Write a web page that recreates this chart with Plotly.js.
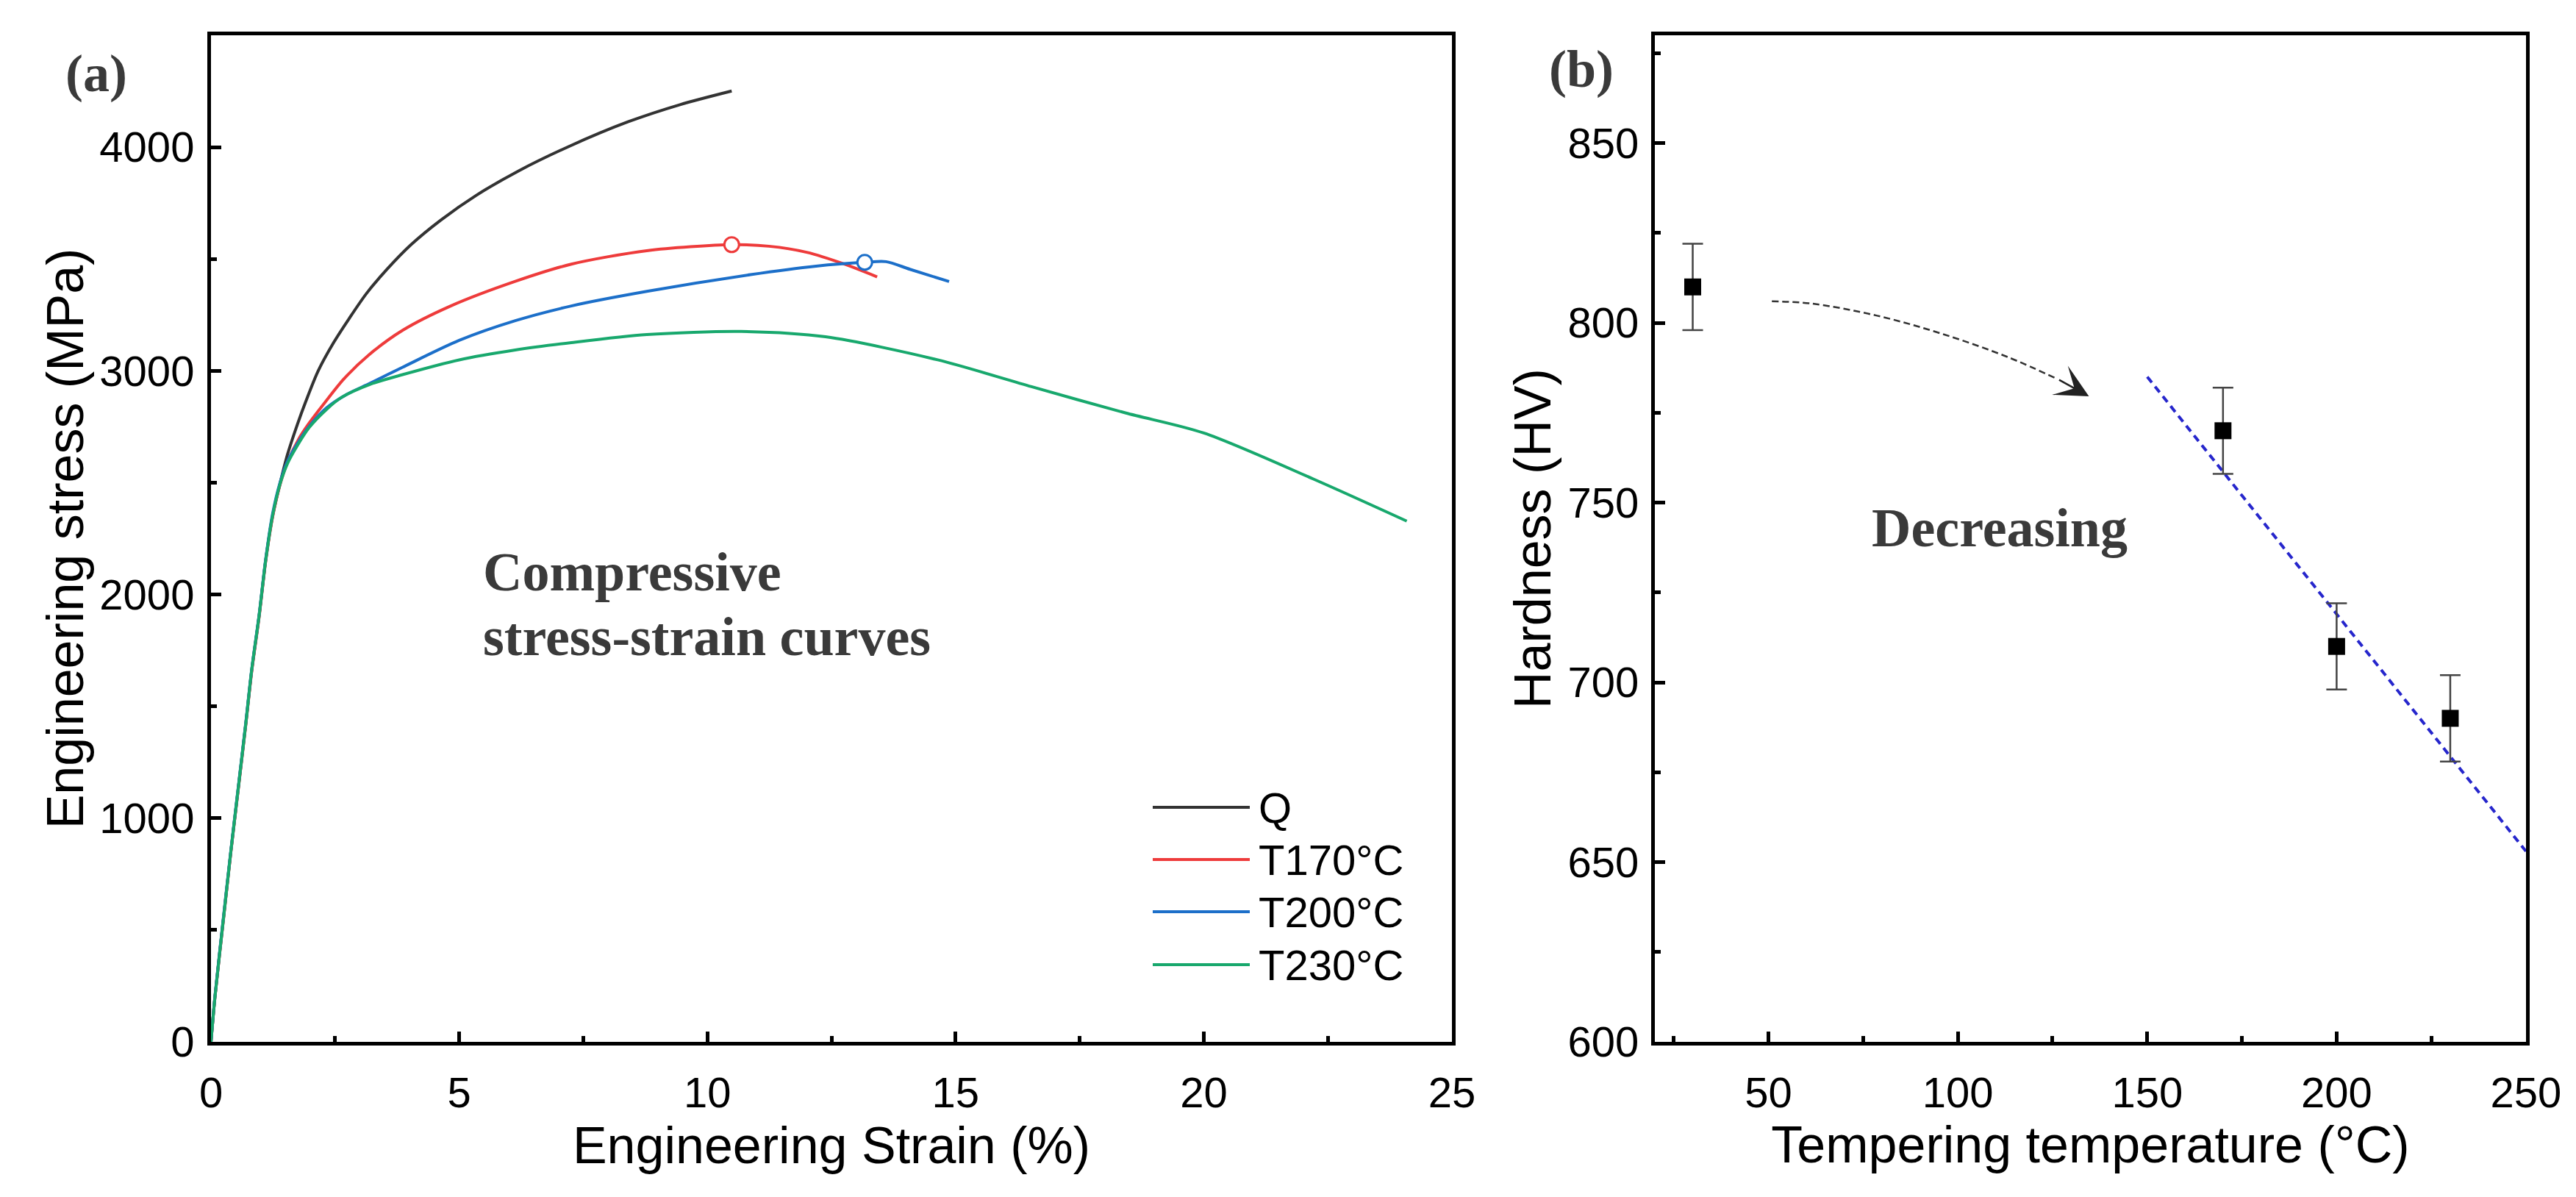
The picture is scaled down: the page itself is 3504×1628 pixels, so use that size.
<!DOCTYPE html>
<html>
<head>
<meta charset="utf-8">
<script src="https://cdn.plot.ly/plotly-3.0.1.min.js"></script>
<style>html,body{margin:0;padding:0;background:#fff;}</style>
</head>
<body>
<div id="chart" style="width:3504px;height:1628px;"></div>
<script>
// (a) compressive stress-strain curves: strain in %, stress in MPa
var strainQ = [0, 0.08, 0.26, 0.40, 0.55, 0.70, 0.82, 0.97, 1.10, 1.24, 1.39, 1.54, 1.74, 1.91, 2.16, 2.47, 2.79, 3.13, 3.55, 4.03, 4.63, 5.34, 6.19, 7.21, 8.40, 9.45, 10.49];
var stressQ = [0, 200, 570, 850, 1135, 1420, 1660, 1905, 2150, 2350, 2495, 2625, 2760, 2863, 3000, 3126, 3236, 3345, 3455, 3564, 3674, 3784, 3893, 4003, 4113, 4190, 4251];

var strain170 = [0, 0.08, 0.26, 0.40, 0.55, 0.70, 0.82, 0.97, 1.10, 1.24, 1.39, 1.54, 1.78, 1.98, 2.30, 2.67, 3.18, 3.86, 4.83, 6.13, 7.26, 8.78, 10.49, 11.24, 12.00, 12.75, 13.42];
var stress170 = [0, 200, 565, 848, 1130, 1415, 1655, 1900, 2145, 2345, 2490, 2590, 2700, 2767, 2860, 2962, 3071, 3181, 3290, 3400, 3477, 3537, 3564, 3557, 3530, 3478, 3420];

var strain200 = [0, 0.08, 0.26, 0.40, 0.55, 0.70, 0.82, 0.97, 1.10, 1.24, 1.39, 1.54, 1.74, 1.98, 2.33, 2.72, 3.21, 3.86, 5.00, 6.13, 7.26, 8.78, 10.87, 12.19, 13.17, 13.60, 14.08, 14.87];
var stress200 = [0, 205, 575, 855, 1140, 1425, 1665, 1910, 2155, 2360, 2500, 2595, 2675, 2752, 2835, 2893, 2945, 3016, 3136, 3224, 3290, 3355, 3430, 3468, 3485, 3488, 3454, 3399];

var strain230 = [0, 0.08, 0.26, 0.40, 0.55, 0.70, 0.82, 0.97, 1.10, 1.24, 1.39, 1.54, 1.74, 1.98, 2.33, 2.62, 3.21, 3.86, 5.00, 6.13, 7.26, 8.78, 10.68, 12.38, 14.64, 16.53, 18.42, 20.00, 22.20, 24.09];
var stress230 = [0, 200, 568, 851, 1135, 1419, 1662, 1906, 2149, 2351, 2493, 2585, 2666, 2747, 2828, 2880, 2940, 2983, 3049, 3093, 3126, 3162, 3176, 3152, 3049, 2929, 2812, 2722, 2517, 2328];

// peak markers (open circles)
var peak170 = {x: [10.49], y: [3564]};
var peak200 = {x: [13.17], y: [3485]};

var seriesNames = ['Q', 'T170°C', 'T200°C', 'T230°C'];
var seriesColors = ['#333333', '#ee3b3b', '#1c6fc9', '#18a86d'];

// (b) hardness vs tempering temperature
var temps = [30, 170, 200, 230];
var hardness = [810, 770, 710, 690];
var hardnessErr = [12, 12, 12, 12];

// linear trend guide and the curved "decreasing" arrow
var fitTemp = [150, 250];
var fitHV = [785, 653];
var arrowTemp = [50.9, 61.2, 78.7, 96.0, 113.4, 126.4];
var arrowHV = [806.0, 805.4, 802.0, 796.9, 790.4, 784.3];
var arrowTip = {x: 134.6, y: 779.6};

var W = 3504, H = 1628;
var tickFont = {family: 'Liberation Sans, Arial, sans-serif', size: 58, color: '#000'};
var titleFont = {family: 'Liberation Sans, Arial, sans-serif', size: 70, color: '#000'};
var serifBold = {family: 'Liberation Serif, Times New Roman, serif', size: 74, color: '#3a3a3a'};

var strainX = [strainQ, strain170, strain200, strain230];
var stressY = [stressQ, stress170, stress200, stress230];

var traces = [];
seriesNames.forEach(function(name, i) {
  traces.push({
    name: name,
    x: strainX[i],
    y: stressY[i],
    xaxis: 'x', yaxis: 'y',
    mode: 'lines',
    type: 'scatter',
    line: {color: seriesColors[i], width: 4, shape: 'spline', smoothing: 0.8},
    showlegend: false,
  });
});

traces.push({
  x: peak170.x, y: peak170.y, xaxis: 'x', yaxis: 'y',
  mode: 'markers', type: 'scatter', showlegend: false,
  marker: {symbol: 'circle', size: 20, color: '#ffffff', line: {color: seriesColors[1], width: 3}},
});
traces.push({
  x: peak200.x, y: peak200.y, xaxis: 'x', yaxis: 'y',
  mode: 'markers', type: 'scatter', showlegend: false,
  marker: {symbol: 'circle', size: 20, color: '#ffffff', line: {color: seriesColors[2], width: 3}},
});

traces.push({
  x: fitTemp, y: fitHV, xaxis: 'x2', yaxis: 'y2',
  mode: 'lines', type: 'scatter', showlegend: false,
  line: {color: '#2626cc', width: 4, dash: '10px,7px'},
});
traces.push({
  x: arrowTemp, y: arrowHV, xaxis: 'x2', yaxis: 'y2',
  mode: 'lines', type: 'scatter', showlegend: false,
  line: {color: '#333333', width: 2.5, dash: '9px,5px', shape: 'spline'},
});
traces.push({
  x: temps, y: hardness, xaxis: 'x2', yaxis: 'y2',
  mode: 'markers', type: 'scatter', showlegend: false,
  marker: {symbol: 'square', size: 23, color: '#000000'},
  error_y: {type: 'data', array: hardnessErr, visible: true, color: '#444444', thickness: 2.5, width: 14},
});

function axisBase() {
  return {
    showgrid: false,
    zeroline: false,
    showline: true,
    linecolor: '#000',
    linewidth: 5,
    mirror: true,
    ticks: 'inside',
    ticklen: 14,
    tickwidth: 5,
    tickcolor: '#000',
    tickfont: tickFont,
    fixedrange: true,
  };
}

// plot areas in pixels of the 3504x1628 canvas
var plotTop = 48, plotBottom = 1417;
var yDomain = [1 - plotBottom / H, 1 - plotTop / H];

var xaxis = Object.assign(axisBase(), {
  domain: [287 / W, 1975 / W], range: [0, 25], dtick: 5, tick0: 0,
  minor: {dtick: 2.5, ticks: 'inside', ticklen: 8, tickwidth: 5, tickcolor: '#000'},
  ticklabelstandoff: 14,
  title: {text: 'Engineering Strain (%)', font: titleFont, standoff: 18},
  anchor: 'y',
});
var yaxis = Object.assign(axisBase(), {
  domain: yDomain, range: [0, 4500], dtick: 1000, tick0: 0,
  minor: {dtick: 500, ticks: 'inside', ticklen: 8, tickwidth: 5, tickcolor: '#000'},
  ticklabelstandoff: 6,
  title: {text: 'Engineering stress (MPa)', font: titleFont, standoff: 0},
  anchor: 'x',
});
var xaxis2 = Object.assign(axisBase(), {
  domain: [2251 / W, 3436 / W], range: [20, 250], dtick: 50, tick0: 0,
  minor: {dtick: 25, ticks: 'inside', ticklen: 8, tickwidth: 5, tickcolor: '#000'},
  ticklabelstandoff: 14,
  title: {text: 'Tempering temperature (°C)', font: titleFont, standoff: 10},
  anchor: 'y2',
});
var yaxis2 = Object.assign(axisBase(), {
  domain: yDomain, range: [600, 880], dtick: 50, tick0: 600,
  minor: {dtick: 25, ticks: 'inside', ticklen: 8, tickwidth: 5, tickcolor: '#000'},
  ticklabelstandoff: 5,
  title: {text: 'Hardness (HV)', font: titleFont, standoff: 2},
  anchor: 'x2',
});

// hand-drawn legend for panel (a), long line samples like the original
var legendRowsY = [1098, 1169, 1240, 1312];
var legendLineX = [1568, 1700];
var shapes = [];
var annotations = [];
seriesNames.forEach(function(name, i) {
  var yp = 1 - legendRowsY[i] / H;
  shapes.push({
    type: 'line', xref: 'paper', yref: 'paper',
    x0: legendLineX[0] / W, x1: legendLineX[1] / W, y0: yp, y1: yp,
    line: {color: seriesColors[i], width: 4},
  });
  annotations.push({
    xref: 'paper', yref: 'paper', x: 1710 / W, y: yp,
    xanchor: 'left', yanchor: 'middle', showarrow: false,
    text: name, font: tickFont,
  });
});

annotations.push(
  {xref: 'paper', yref: 'paper', x: 131 / W, y: 1 - 100 / H, text: '<b>(a)</b>', showarrow: false,
   xanchor: 'center', yanchor: 'middle', font: Object.assign({}, serifBold, {size: 72})},
  {xref: 'paper', yref: 'paper', x: 2151 / W, y: 1 - 94 / H, text: '<b>(b)</b>', showarrow: false,
   xanchor: 'center', yanchor: 'middle', font: Object.assign({}, serifBold, {size: 72})},
  {xref: 'x', yref: 'y', x: 5.45, y: 2102, text: '<b>Compressive</b>', showarrow: false,
   xanchor: 'left', yanchor: 'middle', font: serifBold},
  {xref: 'x', yref: 'y', x: 5.45, y: 1812, text: '<b>stress-strain curves</b>', showarrow: false,
   xanchor: 'left', yanchor: 'middle', font: serifBold},
  {xref: 'x2', yref: 'y2', x: 111, y: 743, text: '<b>Decreasing</b>', showarrow: false,
   xanchor: 'center', yanchor: 'middle', font: serifBold},
  // arrow head at the end of the dashed curve
  {xref: 'x2', yref: 'y2', x: arrowTip.x, y: arrowTip.y, ax: -42, ay: -23,
   text: '', showarrow: true, arrowhead: 3, arrowsize: 3, arrowwidth: 2.5, arrowcolor: '#222222', standoff: 0}
);

var layout = {
  width: W,
  height: H,
  margin: {l: 0, r: 0, t: 0, b: 0},
  paper_bgcolor: '#ffffff',
  plot_bgcolor: '#ffffff',
  showlegend: false,
  xaxis: xaxis,
  yaxis: yaxis,
  xaxis2: xaxis2,
  yaxis2: yaxis2,
  shapes: shapes,
  annotations: annotations,
};

Plotly.newPlot('chart', traces, layout, {displayModeBar: false, staticPlot: true});
</script>
</body>
</html>
